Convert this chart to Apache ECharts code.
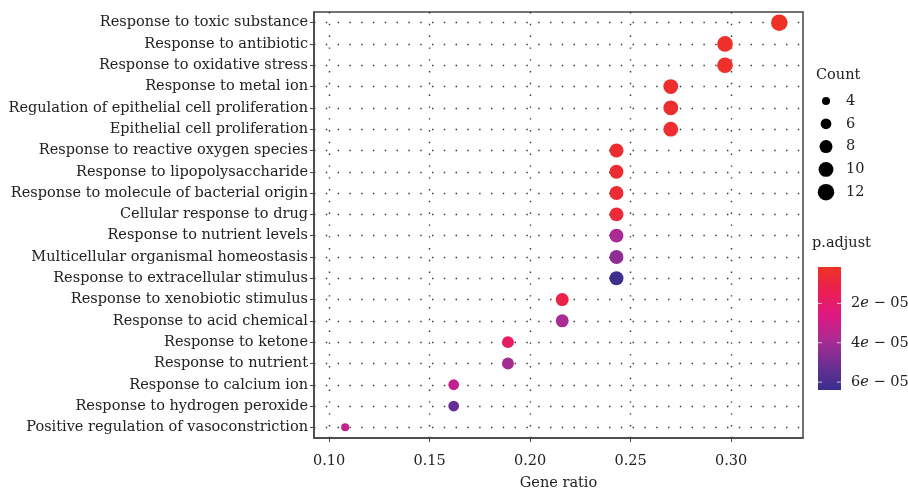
<!DOCTYPE html>
<html>
<head>
<meta charset="utf-8">
<script src="https://cdn.jsdelivr.net/npm/echarts@6/dist/echarts.min.js"></script>
<style>
  html, body { margin: 0; padding: 0; background: #fff; }
  #chart { width: 908px; height: 491px; }
</style>
</head>
<body>
<div id="chart"></div>
<script>
// GO terms, top to bottom
var terms = [
  'Response to toxic substance',
  'Response to antibiotic',
  'Response to oxidative stress',
  'Response to metal ion',
  'Regulation of epithelial cell proliferation',
  'Epithelial cell proliferation',
  'Response to reactive oxygen species',
  'Response to lipopolysaccharide',
  'Response to molecule of bacterial origin',
  'Cellular response to drug',
  'Response to nutrient levels',
  'Multicellular organismal homeostasis',
  'Response to extracellular stimulus',
  'Response to xenobiotic stimulus',
  'Response to acid chemical',
  'Response to ketone',
  'Response to nutrient',
  'Response to calcium ion',
  'Response to hydrogen peroxide',
  'Positive regulation of vasoconstriction'
]
var geneRatio = [0.324, 0.297, 0.297, 0.270, 0.270, 0.270, 0.243, 0.243, 0.243, 0.243,
  0.243, 0.243, 0.243, 0.216, 0.216, 0.189, 0.189, 0.162, 0.162, 0.108]
var counts = [12, 11, 11, 10, 10, 10, 9, 9, 9, 9, 9, 9, 9, 8, 8, 7, 7, 6, 6, 4]
var pAdjust = [1.6e-6, 3e-6, 3e-6, 4e-6, 4.5e-6, 4.5e-6, 5e-6, 5e-6, 6e-6, 6.5e-6,
  3.9e-5, 4.4e-5, 6.3e-5, 1.1e-5, 3.9e-5, 1.7e-5, 4e-5, 3.3e-5, 5.3e-5, 3.2e-5]

var xTicks = [0.10, 0.15, 0.20, 0.25, 0.30]
var countTicks = [4, 6, 8, 10, 12]
var pTicks = [2e-5, 4e-5, 6e-5]
var pRange = [1.5e-6, 6.4e-5]
var countRange = [4, 12]

var FONT = 'DejaVu Serif'
var FS = 14.5
var colors = ['#EE3124', '#EC1F55', '#DC1883', '#A82C92', '#6C2E92', '#382F8E']

// ggplot-like area scaling of dot size
function dotSize(c) {
  var dMin = 8, dMax = 16.5
  var t = (c - countRange[0]) / (countRange[1] - countRange[0])
  return Math.sqrt(dMin * dMin + t * (dMax * dMax - dMin * dMin))
}

var chart = echarts.init(document.getElementById('chart'))

var seriesData = terms.map(function (t, i) {
  return [geneRatio[i], t, counts[i], pAdjust[i]]
})

var font = FS + 'px "' + FONT + '"'
var graphics = []

// legend: Count
graphics.push({
  type: 'text', left: 816, top: 68,
  style: { text: 'Count', font: font, fill: '#222' }
})
countTicks.forEach(function (c, i) {
  var cy = 101 + i * 22.8
  graphics.push({
    type: 'circle',
    shape: { cx: 826, cy: cy, r: dotSize(c) / 2 },
    style: { fill: '#000' }
  })
  graphics.push({
    type: 'text', x: 846, y: cy,
    style: { text: String(c), font: font, fill: '#222', verticalAlign: 'middle' }
  })
})

// legend: p.adjust colour bar
var barTop = 267, barH = 123, barLeft = 818, barW = 23
graphics.push({
  type: 'text', left: 812, top: 236,
  style: { text: 'p.adjust', font: font, fill: '#222' }
})
graphics.push({
  type: 'rect',
  shape: { x: barLeft, y: barTop, width: barW, height: barH },
  style: {
    fill: new echarts.graphic.LinearGradient(0, 0, 0, 1, colors.map(function (c, i) {
      return { offset: i / (colors.length - 1), color: c }
    }))
  }
})
pTicks.forEach(function (p) {
  var y = barTop + (p - pRange[0]) / (pRange[1] - pRange[0]) * barH
  graphics.push({
    type: 'line', z: 100,
    shape: { x1: barLeft, y1: y, x2: barLeft + 4, y2: y },
    style: { stroke: 'rgba(255,255,255,0.7)', lineWidth: 1 }
  })
  graphics.push({
    type: 'line', z: 100,
    shape: { x1: barLeft + barW - 4, y1: y, x2: barLeft + barW, y2: y },
    style: { stroke: 'rgba(255,255,255,0.7)', lineWidth: 1 }
  })
  var s = p.toExponential(0).split('e')
  var ex = parseInt(s[1], 10)
  graphics.push({
    type: 'text', x: 851, y: y,
    style: {
      text: s[0] + '{i|e} \u2212 ' + ('0' + Math.abs(ex)).slice(-2),
      font: font, fill: '#222', verticalAlign: 'middle',
      rich: { i: { fontStyle: 'italic', fontFamily: FONT, fontSize: FS, fill: '#222' } }
    }
  })
})

var option = {
  backgroundColor: '#fff',
  textStyle: { fontFamily: FONT },
  animation: false,
  grid: {
    left: 314, right: 105, top: 12, bottom: 53,
    outerBoundsMode: 'none',
    containLabel: false,
    show: true, borderColor: '#444', borderWidth: 1.5
  },
  xAxis: {
    type: 'value',
    min: 0.0925,
    max: 0.3358,
    name: 'Gene ratio',
    nameLocation: 'middle',
    nameGap: 38,
    nameTextStyle: { fontFamily: FONT, fontSize: FS, color: '#222' },
    axisLine: { show: true, lineStyle: { color: '#444', width: 1.5 } },
    axisTick: { show: true, length: 4, customValues: xTicks, lineStyle: { color: '#444' } },
    axisLabel: {
      customValues: xTicks, margin: 16, fontFamily: FONT, fontSize: FS, color: '#222',
      formatter: function (v) { return v.toFixed(2) }
    },
    splitLine: {
      show: true,
      lineStyle: { color: '#333', width: 1.4, type: [1.4, 10.4] }
    }
  },
  yAxis: {
    type: 'category',
    data: terms,
    inverse: true,
    axisLine: { show: true, lineStyle: { color: '#444', width: 1.5 } },
    axisTick: { show: true, length: 4, alignWithLabel: true, lineStyle: { color: '#444' } },
    axisLabel: { margin: 6, fontFamily: FONT, fontSize: FS, color: '#222' },
    splitLine: {
      show: true, alignWithLabel: true,
      lineStyle: { color: '#333', width: 1.4, type: [1.4, 10.4] }
    }
  },
  visualMap: {
    type: 'continuous',
    show: false,
    seriesIndex: 0,
    dimension: 3,
    min: pRange[0],
    max: pRange[1],
    inRange: { color: colors }
  },
  series: [{
    type: 'scatter',
    data: seriesData,
    symbolSize: function (d) { return dotSize(d[2]) },
    itemStyle: { opacity: 1 },
    z: 10
  }],
  graphic: graphics
}

chart.setOption(option)
</script>
</body>
</html>
